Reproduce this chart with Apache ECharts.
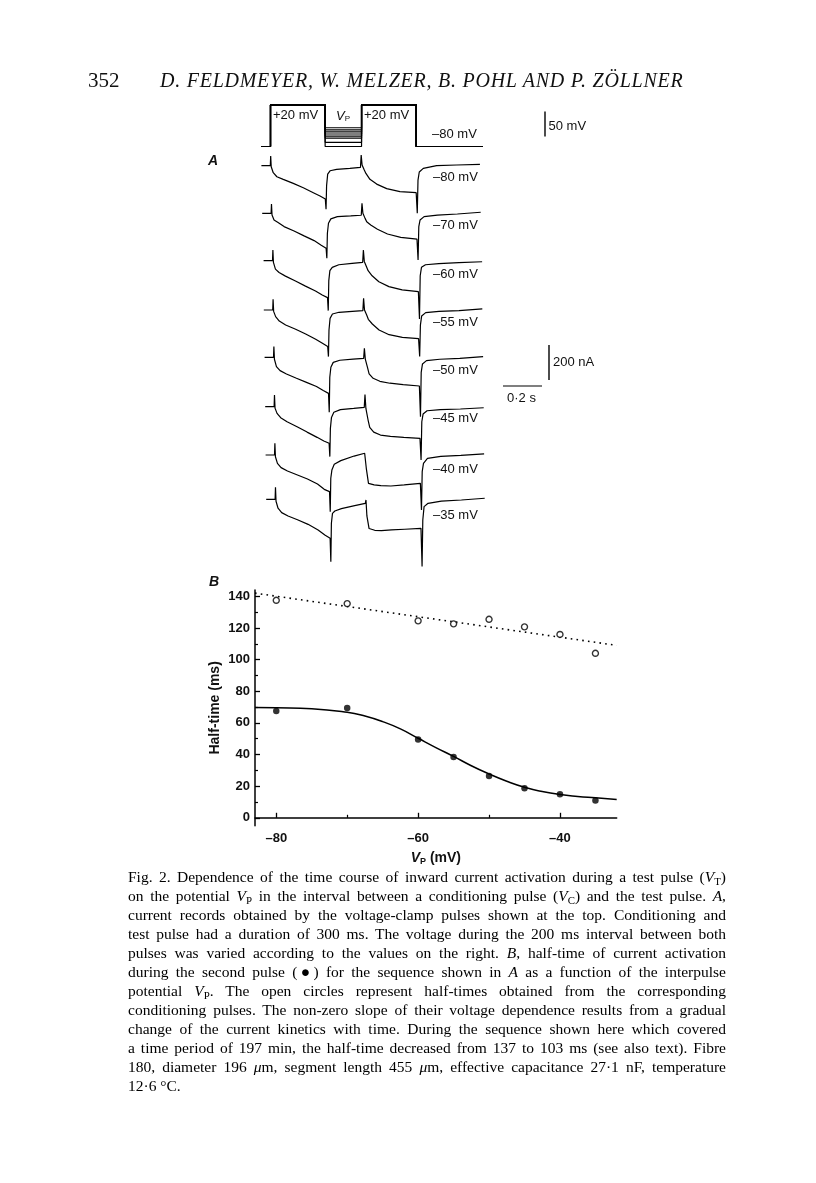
<!DOCTYPE html>
<html><head><meta charset="utf-8">
<script src="https://cdn.jsdelivr.net/npm/echarts@6/dist/echarts.min.js"></script>
<style>
html,body{margin:0;padding:0;background:#fff;}
#wrap{position:relative;width:816px;height:1183px;overflow:hidden;background:#fff;}
#chart{position:absolute;left:0;top:0;width:816px;height:1183px;}
#pg{position:absolute;left:88px;top:69px;font-family:'Liberation Serif',serif;font-size:21px;line-height:22px;color:#111;}
#ttl{position:absolute;left:160px;top:69.5px;font-family:'Liberation Serif',serif;font-style:italic;font-size:20px;letter-spacing:0.75px;line-height:21px;color:#111;white-space:nowrap;}
#cap{position:absolute;left:128px;top:866.5px;width:598px;font-family:'Liberation Serif',serif;font-size:15.5px;color:#000;}
#cap div{height:19px;line-height:19px;text-align:justify;text-align-last:justify;white-space:nowrap;}
#cap div.last{text-align-last:left;}
.s{font-size:0.7em;vertical-align:-0.25em;line-height:0;}
</style></head>
<body><div id="wrap">
<div id="chart"></div>
<div id="pg">352</div>
<div id="ttl">D. FELDMEYER, W. MELZER, B. POHL AND P. ZÖLLNER</div>
<div id="cap">
<div>Fig. 2. Dependence of the time course of inward current activation during a test pulse (<i>V</i><span class="s">T</span>)</div>
<div>on the potential <i>V</i><span class="s">P</span> in the interval between a conditioning pulse (<i>V</i><span class="s">C</span>) and the test pulse. <i>A</i>,</div>
<div>current records obtained by the voltage-clamp pulses shown at the top. Conditioning and</div>
<div>test pulse had a duration of 300 ms. The voltage during the 200 ms interval between both</div>
<div>pulses was varied according to the values on the right. <i>B</i>, half-time of current activation</div>
<div>during the second pulse (●) for the sequence shown in <i>A</i> as a function of the interpulse</div>
<div>potential <i>V</i><span class="s">P</span>. The open circles represent half-times obtained from the corresponding</div>
<div>conditioning pulses. The non-zero slope of their voltage dependence results from a gradual</div>
<div>change of the current kinetics with time. During the sequence shown here which covered</div>
<div>a time period of 197 min, the half-time decreased from 137 to 103 ms (see also text). Fibre</div>
<div>180, diameter 196 <i>μ</i>m, segment length 455 <i>μ</i>m, effective capacitance 27·1 nF, temperature</div>
<div class="last">12·6 °C.</div>
</div>
</div>
<script>
// ---------- Panel A: time base (ms) shared by all current records ----------
const T_MS = [-50,-1,1,4,15,35,70,125,180,235,272,301,305,308,314,327,363,436,494,498,503,515,524,546,583,638,711,800,806,810,817,839,912,1022,1150];
// currents (nA) relative to holding current, one array per interpulse potential
const I_M80 = [0,0,55,-6,-40,-63,-78,-101,-126,-154,-173,-190,-249,-114,-48,-29,-21,-15,-10,61,4,-25,-44,-78,-105,-131,-148,-154,-272,-82,-36,-15,0,4,8];
const I_M70 = [0,0,53,-10,-38,-51,-76,-101,-129,-156,-181,-200,-257,-114,-57,-32,-19,-15,-11,57,0,-29,-48,-67,-91,-118,-137,-148,-266,-76,-38,-19,-10,-4,6];
const I_M60 = [0,0,61,-10,-48,-67,-88,-116,-145,-173,-196,-211,-285,-114,-57,-38,-23,-15,-10,61,-4,-34,-57,-86,-120,-148,-167,-177,-333,-86,-38,-23,-17,-11,-6];
const I_M55 = [0,0,61,-8,-38,-63,-86,-110,-137,-167,-190,-209,-266,-114,-48,-23,-13,-8,-4,67,0,-29,-53,-80,-114,-141,-156,-164,-266,-86,-34,-15,-8,-4,6];
const I_M50 = [0,0,61,-11,-53,-76,-95,-120,-143,-167,-190,-206,-314,-114,-57,-29,-17,-10,-6,51,-10,-57,-95,-120,-137,-148,-156,-164,-339,-86,-38,-19,-11,-6,4];
const I_M45 = [0,0,67,-8,-38,-63,-86,-114,-145,-175,-196,-209,-285,-124,-61,-32,-17,-10,-4,70,-10,-76,-118,-145,-162,-169,-175,-181,-304,-86,-42,-23,-17,-13,-6];
const I_M40 = [0,0,67,-10,-48,-72,-91,-114,-137,-166,-196,-209,-324,-133,-86,-53,-32,-6,10,13,-76,-162,-167,-171,-175,-177,-171,-162,-314,-95,-48,-19,-8,-2,6];
const I_M35 = [0,0,69,-11,-51,-76,-95,-118,-143,-175,-204,-223,-356,-137,-80,-67,-53,-36,-23,-4,-95,-167,-171,-177,-179,-175,-171,-166,-384,-118,-42,-23,-10,-4,6];
const VP_LEVELS = [-80,-70,-60,-55,-50,-45,-40,-35];
const TRACE_LABELS = ['–80 mV','–70 mV','–60 mV','–55 mV','–50 mV','–45 mV','–40 mV','–35 mV'];
// voltage protocol
const PULSE_EDGES_MS = [0,300,500,800];
const HOLD_MV = -80, PULSE_MV = 20;
const SWEEP_MS = [-50,1165];

// ---------- Panel B ----------
const VP_B = [-80,-70,-60,-55,-50,-45,-40,-35];
const HALF_OPEN = [137.5,135.4,124.5,122.6,125.5,120.7,115.9,104.0];
const HALF_FILLED = [67.5,69.4,49.5,38.4,26.4,18.7,14.9,10.9];
const FIT_VP = [-83,-80,-75,-70,-67.5,-65,-62.5,-60,-57.5,-55,-52.5,-50,-47.5,-45,-42.5,-40,-37.5,-35,-32];
const FIT_HALF = [69.8,69.6,69.0,66.7,64.3,60.8,56.2,50.3,44.4,38.8,32.9,27.7,23.1,19.3,16.6,14.7,13.5,12.6,11.5];
const TREND_VP = [-83,-32];
const TREND_HALF = [142,109];
const X_TICKS = [-80,-60,-40];
const X_MINOR = [-70,-50];
const Y_TICKS = [0,20,40,60,80,100,120,140];
const Y_MINOR = [10,30,50,70,90,110,130];

const TRACES = [I_M80,I_M70,I_M60,I_M55,I_M50,I_M45,I_M40,I_M35];

// ---------- layout ----------
const PX_PER_MS = 0.1821, PX_PER_NA = 1/5.71, PX_PER_MV = 0.417;
const T0_X = 270.5;
const BASE_Y = [165.7,213.3,260.7,310,357.3,406.7,455,499.3];
const SHIFT_X = [0,0.8,2.2,2.4,3.2,3.8,4.2,4.8];
const LABEL_Y = [177,225,274,322,370,418,469,515];
const A_XMIN = -50, A_XMAX = 1150, A_YMIN = -500, A_YMAX = 100;
const P_YMIN = -90, P_YMAX = 30, P_XMAX = 1170;

const chart = echarts.init(document.getElementById('chart'), null, {renderer:'canvas'});
const FONT = 'Liberation Sans';

const grids = [], xAxes = [], yAxes = [], series = [];
// protocol grid (index 0)
grids.push({left: T0_X + A_XMIN*PX_PER_MS, top: 146.5 - (P_YMAX - HOLD_MV)*PX_PER_MV,
  width: (P_XMAX - A_XMIN)*PX_PER_MS, height: (P_YMAX - P_YMIN)*PX_PER_MV});
xAxes.push({gridIndex:0, type:'value', min:A_XMIN, max:P_XMAX, show:false});
yAxes.push({gridIndex:0, type:'value', min:P_YMIN, max:P_YMAX, show:false});
VP_LEVELS.forEach(vp => {
  const [a,b,c,d] = PULSE_EDGES_MS;
  series.push({type:'line', xAxisIndex:0, yAxisIndex:0, symbol:'none', silent:true, animation:false,
    lineStyle:{color:'#000', width:1.2},
    data:[[SWEEP_MS[0],HOLD_MV],[a,HOLD_MV],[a,PULSE_MV],[b,PULSE_MV],[b,vp],[c,vp],[c,PULSE_MV],[d,PULSE_MV],[d,HOLD_MV],[SWEEP_MS[1],HOLD_MV]]});
});
// trace grids 1..8
TRACES.forEach((tr,k) => {
  const gi = k+1;
  grids.push({left: T0_X + A_XMIN*PX_PER_MS + SHIFT_X[k], top: BASE_Y[k] - A_YMAX*PX_PER_NA,
    width:(A_XMAX-A_XMIN)*PX_PER_MS, height:(A_YMAX-A_YMIN)*PX_PER_NA});
  xAxes.push({gridIndex:gi, type:'value', min:A_XMIN, max:A_XMAX, show:false});
  yAxes.push({gridIndex:gi, type:'value', min:A_YMIN, max:A_YMAX, show:false});
  series.push({type:'line', xAxisIndex:gi, yAxisIndex:gi, symbol:'none', silent:true, animation:false, clip:false,
    lineStyle:{color:'#000', width:1.2},
    data: T_MS.map((t,i)=>[t, tr[i]])});
});
// panel B grid (index 9)
const GB = 9;
grids.push({left:255, top:590, width:361.7, height:235.7});
const axLine = {show:true, lineStyle:{color:'#000', width:1.5}};
const tickLbl = {fontFamily:FONT, fontSize:13, fontWeight:'bold', color:'#111'};
xAxes.push({gridIndex:GB, type:'value', min:-83, max:-32, position:'bottom',
  axisLine:axLine, splitLine:{show:false},
  axisTick:{show:true, inside:true, length:5, customValues:X_TICKS, lineStyle:{color:'#000', width:1.3}},
  axisLabel:Object.assign({customValues:X_TICKS, margin:6, formatter:v=>String(v).replace('-','–')}, tickLbl),
  name:'{v|V}{p|P} (mV)', nameLocation:'middle', nameGap:25,
  nameTextStyle:{fontFamily:FONT, fontSize:14, fontWeight:'bold', color:'#111',
    rich:{v:{fontFamily:FONT, fontSize:14, fontStyle:'italic', fontWeight:'bold', color:'#111'},
          p:{fontFamily:FONT, fontSize:9, fontWeight:'bold', color:'#111', padding:[6,0,0,0]}}}});
xAxes.push({gridIndex:GB, type:'value', min:-83, max:-32, position:'bottom',
  axisLine:{show:false}, splitLine:{show:false}, axisLabel:{show:false},
  axisTick:{show:true, inside:true, length:3, customValues:X_MINOR, lineStyle:{color:'#000', width:1.2}}});
yAxes.push({gridIndex:GB, type:'value', min:-5, max:144, position:'left',
  axisLine:axLine, splitLine:{show:false},
  axisTick:{show:true, inside:true, length:5, customValues:Y_TICKS, lineStyle:{color:'#000', width:1.3}},
  axisLabel:Object.assign({customValues:Y_TICKS, margin:5}, tickLbl),
  name:'Half-time (ms)', nameLocation:'middle', nameGap:33, nameRotate:90,
  nameTextStyle:{fontFamily:FONT, fontSize:14, fontWeight:'bold', color:'#111'}});
yAxes.push({gridIndex:GB, type:'value', min:-5, max:144, position:'left',
  axisLine:{show:false}, splitLine:{show:false}, axisLabel:{show:false},
  axisTick:{show:true, inside:true, length:3, customValues:Y_MINOR, lineStyle:{color:'#000', width:1.2}}});

series.push({type:'line', xAxisIndex:GB, yAxisIndex:GB, symbol:'none', silent:true, animation:false,
  lineStyle:{color:'#000', width:1.6, type:[1.6,4.2]}, data:TREND_VP.map((v,i)=>[v,TREND_HALF[i]])});
series.push({type:'line', xAxisIndex:GB, yAxisIndex:GB, symbol:'none', smooth:true, silent:true, animation:false,
  lineStyle:{color:'#000', width:1.5}, data:FIT_VP.map((v,i)=>[v,FIT_HALF[i]])});
series.push({type:'scatter', xAxisIndex:GB, yAxisIndex:GB, symbol:'circle', symbolSize:6, silent:true, animation:false, z:5,
  itemStyle:{color:'#fff', borderColor:'#000', borderWidth:1.4}, data:VP_B.map((v,i)=>[v,HALF_OPEN[i]])});
series.push({type:'scatter', xAxisIndex:GB, yAxisIndex:GB, symbol:'circle', symbolSize:6.5, silent:true, animation:false, z:5,
  itemStyle:{color:'#000'}, data:VP_B.map((v,i)=>[v,HALF_FILLED[i]])});

// annotations (labels and scale bars)
const txt = (x,y,text,extra) => Object.assign({type:'text', x, y, silent:true,
  style:Object.assign({text, fontFamily:FONT, fontSize:13, fill:'#111', verticalAlign:'middle'}, extra||{})});
const graphic = [];
graphic.push(txt(208,161,'A',{fontStyle:'italic', fontWeight:'bold', fontSize:14}));
graphic.push(txt(209,582,'B',{fontStyle:'italic', fontWeight:'bold', fontSize:14}));
graphic.push(txt(273,115,'+20 mV'));
graphic.push(txt(364,115,'+20 mV'));
graphic.push(txt(336,116,'{v|V}{p|P}',{rich:{v:{fontFamily:FONT, fontSize:13, fontStyle:'italic', fill:'#111'}, p:{fontFamily:FONT, fontSize:8, fill:'#111', padding:[6,0,0,0]}}}));
graphic.push(txt(432,134,'–80 mV'));
TRACE_LABELS.forEach((l,k)=>graphic.push(txt(433,LABEL_Y[k],l)));
// 50 mV bar
graphic.push({type:'line', silent:true, shape:{x1:545,y1:111.5,x2:545,y2:136.5}, style:{stroke:'#000', lineWidth:1.4}});
graphic.push(txt(548.5,126,'50 mV'));
// 200 nA bar
graphic.push({type:'line', silent:true, shape:{x1:549,y1:345,x2:549,y2:380}, style:{stroke:'#000', lineWidth:1.4}});
graphic.push(txt(553,362,'200 nA'));
// 0.2 s bar
graphic.push({type:'line', silent:true, shape:{x1:503,y1:386,x2:542,y2:386}, style:{stroke:'#000', lineWidth:1.2}});
graphic.push(txt(507,398,'0·2 s'));

chart.setOption({animation:false, backgroundColor:'transparent', grid:grids, xAxis:xAxes, yAxis:yAxes, series, graphic});
</script>
</body></html>
